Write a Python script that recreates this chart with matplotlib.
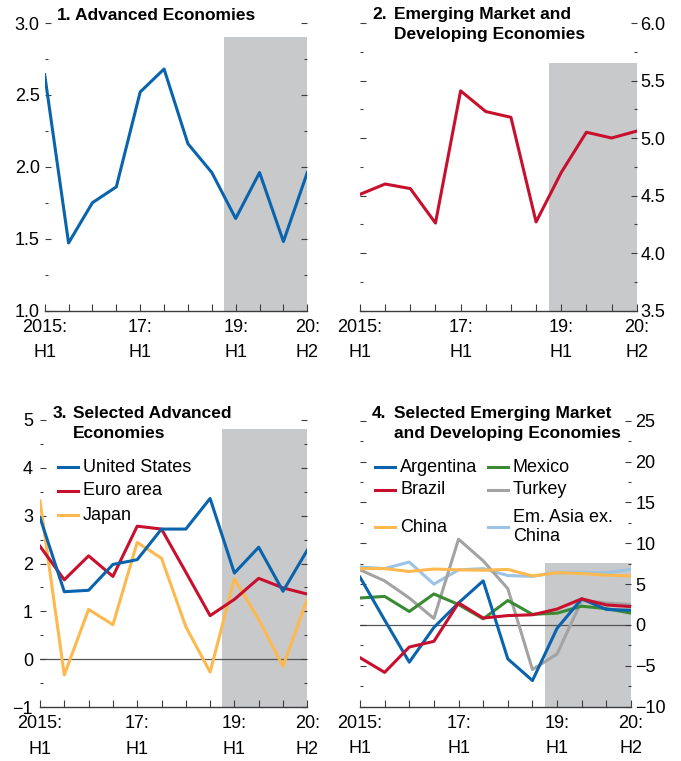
import matplotlib
matplotlib.use('Agg')
import matplotlib.pyplot as plt
from matplotlib.lines import Line2D
from matplotlib.ticker import MultipleLocator
from matplotlib import font_manager

W, H = 681, 761

# half-year periods 2015:H1 .. 2020:H2
periods = list(range(12))
period_labels = ['2015:\nH1', '', '', '', '17:\nH1', '', '', '', '19:\nH1', '', '', '20:\nH2']

# panel 1 / 2
advanced = [2.64, 1.47, 1.75, 1.86, 2.52, 2.68, 2.16, 1.96, 1.64, 1.96, 1.48, 1.96]
emde = [4.51, 4.60, 4.56, 4.26, 5.41, 5.23, 5.18, 4.27, 4.70, 5.05, 5.00, 5.06]

# panel 3
united_states = [2.96, 1.41, 1.44, 1.98, 2.08, 2.72, 2.72, 3.36, 1.80, 2.34, 1.42, 2.28]
euro_area = [2.36, 1.66, 2.16, 1.73, 2.78, 2.72, 1.82, 0.91, 1.25, 1.69, 1.49, 1.36]
japan = [3.31, -0.33, 1.04, 0.72, 2.44, 2.11, 0.68, -0.27, 1.68, 0.83, -0.15, 1.26]

# panel 4
argentina = [5.85, 0.6, -4.55, -0.3, 2.7, 5.4, -4.15, -6.8, -0.4, 3.2, 1.9, 1.8]
brazil = [-4.0, -5.8, -2.7, -2.0, 2.7, 0.85, 1.15, 1.25, 1.95, 3.2, 2.45, 2.25]
mexico = [3.3, 3.5, 1.65, 3.8, 2.5, 0.75, 3.0, 1.3, 1.45, 2.3, 2.0, 1.45]
turkey = [6.75, 5.4, 3.3, 0.8, 10.5, 7.85, 4.45, -5.45, -3.55, 3.0, 2.7, 2.5]
china = [6.9, 6.9, 6.55, 6.85, 6.75, 6.7, 6.8, 6.0, 6.4, 6.3, 6.1, 6.0]
em_asia = [7.1, 6.9, 7.7, 5.0, 6.75, 6.9, 6.05, 5.95, 6.45, 6.45, 6.4, 6.8]

BLUE = '#0a64ad'
RED = '#c8102e'
YELLOW = '#fdb94f'
GREEN = '#3a8a34'
GRAY = '#a3a3a3'
LIGHTBLUE = '#9cc3e4'
SHADE = '#c8c9cb'
DARK = '#3c3c3c'

plt.rcParams['font.family'] = ['Liberation Sans', 'DejaVu Sans']

names = {f.name for f in font_manager.fontManager.ttflist}
if 'Liberation Sans Narrow' in names:
    title_font = dict(family='Liberation Sans Narrow', fontsize=15, fontweight='bold')
else:
    title_font = dict(family='Liberation Sans', fontsize=12.5, fontweight='bold')


def fx(x):
    return x / W


def fy(y):
    return 1 - y / H


def setup_axes(ax, ylim, major, minor, side, shade_top, pad):
    ax.set_xlim(0, 11)
    ax.set_ylim(*ylim)
    for s in ['top', 'left', 'right']:
        ax.spines[s].set_visible(False)
    ax.spines['bottom'].set_color(DARK)
    ax.spines['bottom'].set_linewidth(1.0)
    ax.set_xticks(periods)
    ax.set_xticklabels(period_labels, linespacing=1.65)
    ax.tick_params(axis='x', direction='in', length=5, width=0.8, color=DARK,
                   pad=6, labelsize=13)
    ax.yaxis.set_major_locator(MultipleLocator(major))
    ax.yaxis.set_minor_locator(MultipleLocator(minor))
    ax.tick_params(axis='y', which='both', direction='in', left=True, right=True,
                   labelleft=(side == 'left'), labelright=(side == 'right'),
                   color=DARK, width=0.8, labelsize=13, pad=pad)
    ax.tick_params(axis='y', which='major', length=4.5)
    ax.tick_params(axis='y', which='minor', length=2.5)
    ax.fill_between([7.5, 11], ylim[0], shade_top, color=SHADE, lw=0, zorder=0)
    ax.patch.set_alpha(0)


def title(num, text, x_num, x_text, y_top):
    fig.text(fx(x_num), fy(y_top), num, ha='left', va='top', **title_font)
    fig.text(fx(x_text), fy(y_top), text, ha='left', va='top', linespacing=1.45, **title_font)


def legend_entry(x, y, color, label):
    fig.add_artist(Line2D([fx(x), fx(x + 20)], [fy(y), fy(y)], color=color, lw=2.2))
    fig.text(fx(x + 25), fy(y), label, ha='left', va='center', fontsize=13,
             linespacing=1.1)


fig = plt.figure(figsize=(W / 100, H / 100), dpi=100)

ax1 = fig.add_axes([fx(44.7), fy(310.5), fx(307.3 - 44.7), (310.5 - 23) / H])
ax2 = fig.add_axes([fx(360), fy(310.5), fx(636.7 - 360), (310.5 - 23) / H])
ax3 = fig.add_axes([fx(40), fy(707), fx(307.3 - 40), (707 - 420) / H])
ax4 = fig.add_axes([fx(360), fy(706.7), fx(631 - 360), (706.7 - 420.7) / H])

setup_axes(ax1, (1.0, 3.0), 0.5, 0.25, 'left', 2.9, 3.5)
setup_axes(ax2, (3.5, 6.0), 0.5, 0.25, 'right', 5.65, 2.5)
setup_axes(ax3, (-1, 5), 1, 0.5, 'left', 4.81, 5)
setup_axes(ax4, (-10, 25), 5, 2.5, 'right', 7.6, 3)

ax1.plot(periods, advanced, color=BLUE, lw=2.2, zorder=3)
ax2.plot(periods, emde, color=RED, lw=2.2, zorder=3)

ax3.axhline(0, color='#555555', lw=0.9, zorder=1)
ax3.plot(periods, japan, color=YELLOW, lw=2.2, zorder=3)
ax3.plot(periods, euro_area, color=RED, lw=2.2, zorder=3)
ax3.plot(periods, united_states, color=BLUE, lw=2.2, zorder=3)

ax4.axhline(0, color='#555555', lw=0.9, zorder=1)
ax4.plot(periods, em_asia, color=LIGHTBLUE, lw=2.2, zorder=3)
ax4.plot(periods, turkey, color=GRAY, lw=2.2, zorder=3)
ax4.plot(periods, china, color=YELLOW, lw=2.2, zorder=3)
ax4.plot(periods, mexico, color=GREEN, lw=2.2, zorder=3)
ax4.plot(periods, argentina, color=BLUE, lw=2.2, zorder=3)
ax4.plot(periods, brazil, color=RED, lw=2.2, zorder=3)

title('1.', 'Advanced Economies', 57, 75, 8)
title('2.', 'Emerging Market and\nDeveloping Economies', 372, 394, 7)
title('3.', 'Selected Advanced\nEconomies', 53, 73, 406)
title('4.', 'Selected Emerging Market\nand Developing Economies', 372, 394, 406)

legend_entry(58, 467, BLUE, 'United States')
legend_entry(58, 491, RED, 'Euro area')
legend_entry(58, 515, YELLOW, 'Japan')

legend_entry(375, 467, BLUE, 'Argentina')
legend_entry(375, 490, RED, 'Brazil')
legend_entry(375, 527, YELLOW, 'China')
legend_entry(488, 467, GREEN, 'Mexico')
legend_entry(488, 490, GRAY, 'Turkey')
legend_entry(488, 527, LIGHTBLUE, 'Em. Asia ex.\nChina')

fig.savefig('out.png', dpi=100)
